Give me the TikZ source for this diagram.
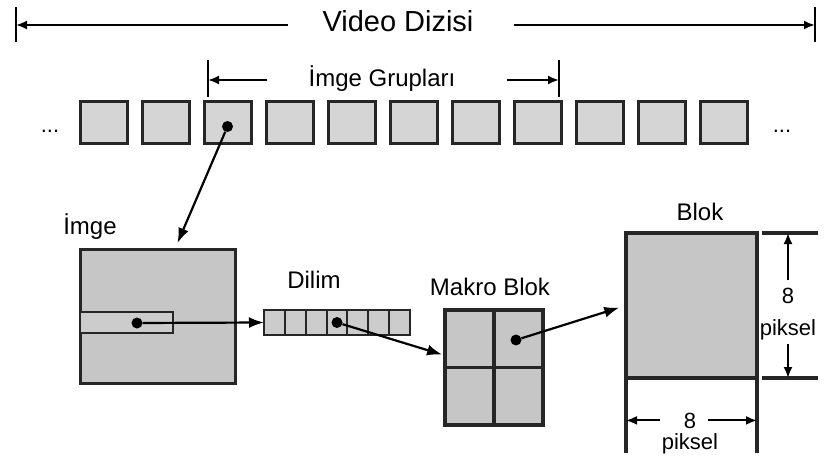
\documentclass[tikz,border=0pt]{standalone}
\usepackage{fontspec}
\setmainfont{Liberation Sans}
\usetikzlibrary{arrows.meta,positioning}

\begin{document}
\begin{tikzpicture}[x=1pt, y=-1pt,
    lbl/.style={inner sep=0pt, anchor=base, font=\fontsize{24}{28}\selectfont},
    dimlbl/.style={inner sep=0pt, anchor=base, font=\fontsize{22}{26}\selectfont},
    framebox/.style={draw=black!85, line width=3pt, fill=gray!33, minimum width=47pt, minimum height=41pt, outer sep=0pt, inner sep=0pt},
    box/.style={draw=black!85, line width=3pt, fill=gray!45, outer sep=0pt, inner sep=0pt},
    spot/.style={circle, fill=black, inner sep=0pt, minimum size=11pt},
    spanarrow/.style={line width=2pt, -{Latex[length=11pt,width=9pt]}},
    endbar/.style={line width=2.4pt},
    link/.style={line width=2.2pt, -{Latex[length=15pt,width=11pt]}},
    dimarrow/.style={line width=2pt, -{Latex[length=11pt,width=9pt]}},
    thickline/.style={line width=4.5pt, black!85}
]
    \useasboundingbox (0,0) rectangle (831,460);

    % video sequence span
    \node[lbl, font=\fontsize{29}{33}\selectfont] (title) at (398,32) {Video Dizisi};
    \coordinate (vL) at (16,25);
    \coordinate (vR) at (815,25);
    \draw[endbar] ([yshift=18pt]vL) -- ([yshift=-17pt]vL);
    \draw[endbar] ([yshift=18pt]vR) -- ([yshift=-17pt]vR);
    \draw[spanarrow] ([xshift=-34pt]title.west |- vL) -- (vL);
    \draw[spanarrow] ([xshift=40pt]title.east |- vR) -- (vR);

    % group of pictures span
    \node[lbl] (group) at (382,87) {İmge Grupları};
    \coordinate (gL) at (208,80);
    \coordinate (gR) at (559,80);
    \draw[endbar] ([yshift=20pt]gL) -- ([yshift=-17pt]gL);
    \draw[endbar] ([yshift=20pt]gR) -- ([yshift=-17pt]gR);
    \draw[spanarrow] ([xshift=-41pt]group.west |- gL) -- (gL);
    \draw[spanarrow] ([xshift=51pt]group.east |- gR) -- (gR);

    \foreach \i in {1,...,11}
        \node[framebox] (f\i) at ({103.5+62*(\i-1)},122.5) {};
    \node[dimlbl] (dotsL) at (50,132) {...};
    \node[dimlbl] (dotsR) at (782,132) {...};
    \node[spot] (d3) at ([yshift=-4pt]f3.center) {};

    % picture
    \node[lbl] (limge) at (90,234) {İmge};
    \node[box, minimum width=155pt, minimum height=134pt] (imge) at (157.5,316) {};
    \node[box, fill=gray!40, line width=2.4pt, minimum width=93pt, minimum height=21pt] (strip) at (126.5,322.5) {};
    \node[spot] (sd) at (137,323) {};
    \draw[link] (d3) -- ([xshift=20pt,yshift=6pt]imge.north);

    % slice
    \node[lbl] (ldilim) at (314,288) {Dilim};
    \node[box, fill=gray!40, line width=2.4pt, minimum width=146pt, minimum height=25pt] (dilim) at (337,322.5) {};
    \foreach \k in {1,...,6}
        \draw[line width=2pt, black!85] ([xshift=\k*20.86pt]dilim.north west) -- ([xshift=\k*20.86pt]dilim.south west);
    \node[spot] (dd) at (dilim.center) {};
    \draw[link] (sd) -- (dilim.west);

    % macroblock
    \node[lbl] (lmb) at (490,295) {Makro Blok};
    \node[box, line width=3.5pt, minimum width=98pt, minimum height=115pt] (mb) at (494,367.5) {};
    \draw[line width=3.5pt, black!85] (mb.north) -- (mb.south);
    \draw[line width=3.5pt, black!85] (mb.west) -- (mb.east);
    \node[spot] (md) at (516,340) {};
    \draw[link, shorten >=3pt] (dd) -- ([yshift=12pt]mb.west);

    % block
    \node[lbl] (lblok) at (700,220) {Blok};
    \node[box, line width=4.5pt, minimum width=131pt, minimum height=145pt] (blok) at (691.5,305.5) {};
    \draw[thickline] (blok.south west) -- ++(0,75);
    \draw[thickline] (blok.south east) -- ++(0,75);
    \draw[thickline] ([xshift=5pt]blok.north east) -- ++(56,0);
    \draw[thickline] ([xshift=5pt]blok.south east) -- ++(56,0);
    \draw[link, shorten >=7pt] (md) -- (blok.west);

    \node[dimlbl] (v8) at (788,303) {8};
    \node[dimlbl] (vpik) at (788,335) {piksel};
    \draw[dimarrow] ([yshift=7pt]v8.north) -- (v8.north |- blok.north);
    \draw[dimarrow] ([yshift=-4pt]vpik.south) -- (vpik.south |- blok.south);

    \node[dimlbl] (h8) at (690,428) {8};
    \node[dimlbl] (hpik) at (690,449) {piksel};
    \draw[dimarrow] ([xshift=-24pt]h8.west) -- (h8.west -| blok.west);
    \draw[dimarrow] ([xshift=12pt]h8.east) -- (h8.east -| blok.east);
\end{tikzpicture}
\end{document}
